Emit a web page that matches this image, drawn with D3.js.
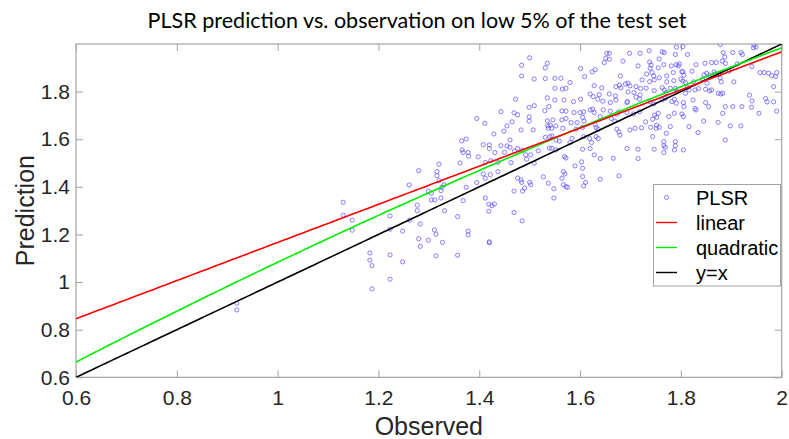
<!DOCTYPE html>
<html>
<head>
<meta charset="utf-8">
<script src="https://cdn.jsdelivr.net/npm/d3@7"></script>
<style>
  html, body { margin: 0; padding: 0; background: #fff; }
  svg { display: block; }
</style>
</head>
<body>
<svg id="chart" width="789" height="439"></svg>
<script>
// PLSR predictions against observed values (low 5% of the test set)
const plsrPoints = [
  [1.500,1.942],[1.484,1.911],[1.535,1.919],[1.531,1.900],[1.484,1.866],[1.509,1.853],[1.531,1.855],
  [1.472,1.768],[1.535,1.774],[1.499,1.734],[1.509,1.741],[1.538,1.737],[1.530,1.720],[1.443,1.716],
  [1.469,1.711],[1.476,1.703],[1.499,1.694],[1.395,1.687],[1.411,1.667],[1.465,1.673],[1.499,1.676],
  [1.535,1.677],[1.455,1.656],[1.536,1.656],[1.449,1.634],[1.429,1.622],[1.483,1.639],[1.507,1.639],
  [1.537,1.646],[1.461,1.597],[1.374,1.601],[1.365,1.593],[1.408,1.577],[1.420,1.576],[1.420,1.561],
  [1.443,1.573],[1.455,1.572],[1.461,1.566],[1.476,1.561],[1.366,1.555],[1.378,1.544],[1.368,1.544],
  [1.379,1.529],[1.398,1.526],[1.431,1.544],[1.450,1.545],[1.470,1.550],[1.486,1.554],[1.492,1.535],
  [1.502,1.534],[1.517,1.551],[1.539,1.563],[1.531,1.608],[1.540,1.611],[1.362,1.500],[1.412,1.502],
  [1.423,1.510],[1.437,1.503],[1.463,1.502],[1.494,1.516],[1.509,1.499],[1.320,1.495],
  [1.280,1.468],[1.316,1.464],[1.316,1.447],[1.320,1.426],[1.261,1.408],[1.330,1.409],[1.326,1.398],
  [1.299,1.382],[1.305,1.373],[1.324,1.384],[1.130,1.335],[1.305,1.345],[1.312,1.345],[1.324,1.353],
  [1.277,1.323],[1.277,1.300],[1.331,1.300],[1.130,1.281],[1.148,1.260],[1.223,1.278],[1.262,1.260],
  [1.283,1.244],[1.148,1.218],[1.223,1.222],[1.248,1.214],[1.311,1.219],[1.314,1.201],[1.280,1.182],
  [1.299,1.176],[1.327,1.167],[1.283,1.150],[1.183,1.122],[1.223,1.114],[1.314,1.110],[1.183,1.092],
  [1.187,1.069],[1.248,1.085],[1.223,1.012],[1.187,0.971],[1.357,1.275],[1.357,1.113],[1.378,1.214],
  [1.378,1.198],[1.420,1.169],[1.420,1.165],[1.368,1.342],[1.374,1.398],[1.395,1.418],[1.412,1.436],
  [1.408,1.454],[1.422,1.451],[1.437,1.464],[1.412,1.353],[1.419,1.327],[1.425,1.321],[1.430,1.328],
  [1.419,1.297],[1.469,1.292],[1.485,1.257],[1.469,1.382],[1.486,1.382],[1.490,1.395],[1.476,1.437],
  [1.483,1.429],[1.484,1.419],[1.500,1.419],[1.502,1.409],[1.527,1.442],[1.537,1.415],
  [1.567,1.464],[1.570,1.454],[1.564,1.436],[1.548,1.392],[1.548,1.353],[1.567,1.409],[1.572,1.401],
  [1.575,1.398],[1.605,1.443],[1.611,1.419],[1.607,1.404],[1.640,1.432],[1.677,1.446],
  [0.919,0.911],[0.919,0.883],
  [1.878,1.998],[1.945,1.995],[1.949,1.987],[1.944,1.984],[1.791,1.987],[1.804,1.989],[1.737,1.972],
  [1.653,1.961],[1.658,1.961],[1.698,1.961],[1.719,1.961],[1.763,1.967],[1.767,1.964],[1.789,1.956],
  [1.813,1.956],[1.884,1.964],[1.903,1.964],[1.919,1.964],[1.922,1.956],[1.651,1.940],[1.658,1.936],
  [1.648,1.922],[1.685,1.928],[1.715,1.908],[1.738,1.924],[1.741,1.912],[1.739,1.898],[1.766,1.913],
  [1.755,1.900],[1.781,1.908],[1.791,1.913],[1.797,1.916],[1.757,1.937],[1.802,1.884],[1.830,1.913],
  [1.848,1.919],[1.861,1.922],[1.870,1.922],[1.887,1.945],[1.882,1.928],[1.888,1.919],[1.912,1.916],
  [1.601,1.897],[1.630,1.892],[1.624,1.883],[1.680,1.866],[1.609,1.863],[1.550,1.856],[1.562,1.856],
  [1.732,1.874],[1.743,1.880],[1.746,1.866],[1.772,1.866],[1.785,1.880],[1.795,1.908],[1.804,1.883],
  [1.806,1.869],[1.822,1.886],[1.846,1.871],[1.851,1.877],[1.857,1.869],[1.866,1.883],[1.868,1.874],
  [1.875,1.871],[1.896,1.886],[1.900,1.897],[1.941,1.905],[1.957,1.880],[1.965,1.880],[1.974,1.877],
  [1.980,1.867],[1.990,1.880],[1.988,1.863],[1.800,1.852],[1.804,1.844],[1.786,1.846],[1.772,1.841],
  [1.757,1.858],[1.825,1.841],[1.809,1.838],[1.843,1.852],[1.852,1.835],[1.878,1.858],[1.880,1.841],
  [1.905,1.841],[1.580,1.838],[1.550,1.814],[1.565,1.811],[1.572,1.814],[1.628,1.825],[1.643,1.816],
  [1.671,1.821],[1.678,1.827],[1.681,1.816],[1.690,1.832],[1.695,1.835],[1.699,1.824],[1.711,1.821],
  [1.720,1.813],[1.723,1.849],[1.738,1.842],[1.747,1.849],[1.695,1.799],[1.707,1.796],[1.731,1.814],
  [1.747,1.804],[1.763,1.817],[1.767,1.807],[1.771,1.796],[1.779,1.814],[1.789,1.813],[1.793,1.800],
  [1.813,1.817],[1.816,1.807],[1.809,1.793],[1.828,1.807],[1.835,1.813],[1.849,1.810],[1.857,1.803],
  [1.861,1.807],[1.874,1.793],[1.879,1.790],[1.883,1.793],[1.936,1.785],[1.941,1.761],[1.984,1.821],
  [1.620,1.790],[1.626,1.779],[1.638,1.787],[1.658,1.790],[1.670,1.782],[1.601,1.768],[1.587,1.758],
  [1.550,1.765],[1.568,1.765],[1.635,1.768],[1.645,1.760],[1.660,1.754],[1.671,1.765],[1.694,1.758],
  [1.693,1.754],[1.711,1.777],[1.718,1.768],[1.719,1.786],[1.739,1.757],[1.746,1.748],[1.763,1.765],
  [1.769,1.772],[1.782,1.758],[1.787,1.768],[1.791,1.751],[1.805,1.754],[1.806,1.737],[1.824,1.765],
  [1.830,1.723],[1.828,1.729],[1.849,1.754],[1.855,1.737],[1.888,1.737],[1.903,1.737],[1.921,1.737],
  [1.940,1.734],[1.968,1.771],[1.971,1.757],[1.984,1.757],[1.955,1.709],[1.990,1.718],[1.883,1.709],
  [1.564,1.719],[1.572,1.718],[1.588,1.712],[1.600,1.712],[1.546,1.681],[1.564,1.681],[1.572,1.687],
  [1.582,1.670],[1.594,1.670],[1.607,1.715],[1.608,1.676],[1.605,1.692],[1.620,1.723],[1.625,1.726],
  [1.628,1.712],[1.646,1.723],[1.660,1.718],[1.640,1.695],[1.662,1.687],[1.673,1.706],[1.677,1.715],
  [1.693,1.712],[1.706,1.706],[1.718,1.715],[1.730,1.673],[1.744,1.684],[1.748,1.701],[1.752,1.692],
  [1.755,1.709],[1.776,1.695],[1.787,1.709],[1.802,1.706],[1.805,1.695],[1.845,1.676],[1.874,1.671],
  [1.898,1.656],[1.919,1.656],[1.552,1.656],[1.566,1.646],[1.541,1.659],[1.544,1.646],[1.544,1.614],
  [1.592,1.642],[1.605,1.650],[1.630,1.661],[1.632,1.649],[1.636,1.642],[1.669,1.676],[1.673,1.642],
  [1.677,1.631],[1.679,1.617],[1.699,1.639],[1.709,1.646],[1.722,1.648],[1.740,1.650],[1.744,1.611],
  [1.751,1.646],[1.752,1.659],[1.757,1.650],[1.771,1.625],[1.779,1.653],[1.816,1.653],[1.834,1.628],
  [1.888,1.597],[1.552,1.597],[1.559,1.592],[1.580,1.586],[1.584,1.603],[1.607,1.611],[1.619,1.603],
  [1.623,1.586],[1.632,1.611],[1.636,1.603],[1.544,1.562],[1.552,1.555],[1.605,1.558],[1.620,1.561],
  [1.628,1.534],[1.640,1.519],[1.666,1.520],[1.693,1.561],[1.715,1.558],[1.715,1.519],[1.747,1.558],
  [1.766,1.590],[1.766,1.573],[1.769,1.566],[1.766,1.544],[1.789,1.590],[1.789,1.573],[1.787,1.555],
  [1.805,1.555],[1.569,1.527],[1.572,1.521],[1.590,1.488],[1.603,1.505],[1.605,1.478]
];

// Fitted curves: coefficients in ascending powers of x
const linearFit = [0.3654, 0.801];
const quadraticFit = [-0.0278, 1.216, -0.105];
const identityLine = [0, 1];

const xTicks = [0.6, 0.8, 1, 1.2, 1.4, 1.6, 1.8, 2];
const yTicks = [0.6, 0.8, 1, 1.2, 1.4, 1.6, 1.8];
const legendLabels = ["PLSR", "linear", "quadratic", "y=x"];

const titleText = "PLSR prediction vs. observation on low 5% of the test set";
const xLabel = "Observed";
const yLabel = "Prediction";

const margin = { left: 76, right: 7.3, top: 44, bottom: 61.7 };
const W = 789, H = 439;
const svg = d3.select("#chart");

const x = d3.scaleLinear().domain([0.6, 2]).range([margin.left, W - margin.right]);
const y = d3.scaleLinear().domain([0.6, 2]).range([H - margin.bottom, margin.top]);

const frameColor = "#a3a3a3";
const labelColor = "#262626";
const tickFont = "Liberation Sans, Arial, sans-serif";

// clip region for the plotted data
svg.append("clipPath").attr("id", "plotClip")
  .append("rect")
  .attr("x", x(0.6)).attr("y", y(2))
  .attr("width", x(2) - x(0.6)).attr("height", y(0.6) - y(2));

// axes: inward ticks on all four sides, MATLAB style
const tickLen = 7;
function styleAxis(g) {
  g.select(".domain").remove();
  g.selectAll(".tick line").attr("stroke", frameColor).attr("stroke-width", 1);
  g.selectAll(".tick text")
    .attr("fill", labelColor)
    .style("font-family", tickFont)
    .style("font-size", "21px");
}

svg.append("g")
  .attr("transform", `translate(0,${y(0.6)})`)
  .call(d3.axisBottom(x).tickValues(xTicks).tickFormat(d3.format("~g"))
        .tickSizeInner(-tickLen).tickSizeOuter(0).tickPadding(13))
  .call(styleAxis);

svg.append("g")
  .attr("transform", `translate(0,${y(2)})`)
  .call(d3.axisTop(x).tickValues(xTicks).tickFormat("")
        .tickSizeInner(-tickLen).tickSizeOuter(0))
  .call(styleAxis);

svg.append("g")
  .attr("transform", `translate(${x(0.6)},0)`)
  .call(d3.axisLeft(y).tickValues(yTicks).tickFormat(d3.format("~g"))
        .tickSizeInner(-tickLen).tickSizeOuter(0).tickPadding(6))
  .call(styleAxis);

svg.append("g")
  .attr("transform", `translate(${x(2)},0)`)
  .call(d3.axisRight(y).tickValues(yTicks).tickFormat("")
        .tickSizeInner(-tickLen).tickSizeOuter(0))
  .call(styleAxis);

// plot box
svg.append("rect")
  .attr("x", x(0.6)).attr("y", y(2))
  .attr("width", x(2) - x(0.6)).attr("height", y(0.6) - y(2))
  .attr("fill", "none").attr("stroke", frameColor).attr("stroke-width", 1.2);

const plot = svg.append("g").attr("clip-path", "url(#plotClip)");

// PLSR scatter
const pointColor = "#5b4dff";
plot.append("g")
  .selectAll("circle")
  .data(plsrPoints)
  .join("circle")
  .attr("cx", d => x(d[0]))
  .attr("cy", d => y(d[1]))
  .attr("r", 2.1)
  .attr("fill", "none")
  .attr("stroke", pointColor)
  .attr("stroke-opacity", 0.8)
  .attr("stroke-width", 0.9);

// evaluate a polynomial over the x range
const poly = coef => v => coef.reduce((s, c, i) => s + c * Math.pow(v, i), 0);
const xs = d3.range(0, 141).map(i => 0.6 + i * 0.01);
const lineGen = d3.line().x(d => x(d[0])).y(d => y(d[1]));

const fits = [
  { coef: identityLine, color: "#000000" },
  { coef: quadraticFit, color: "#00ee00" },
  { coef: linearFit, color: "#ff0000" }
];
fits.forEach(f => {
  const fn = poly(f.coef);
  plot.append("path")
    .datum(xs.map(v => [v, fn(v)]))
    .attr("d", lineGen)
    .attr("fill", "none")
    .attr("stroke", f.color)
    .attr("stroke-width", 1.6);
});

// legend
const legend = svg.append("g");
legend.append("rect")
  .attr("x", 653.5).attr("y", 184.5)
  .attr("width", 127).attr("height", 101.5)
  .attr("fill", "#fff").attr("stroke", frameColor).attr("stroke-width", 1);

const legendColors = [pointColor, "#ff0000", "#00ee00", "#000000"];
const rowY = d3.scalePoint().domain(legendLabels).range([197.5, 272.5]);
legendLabels.forEach((lab, i) => {
  const cy = rowY(lab);
  if (i === 0) {
    legend.append("circle")
      .attr("cx", 666.5).attr("cy", cy).attr("r", 2.1)
      .attr("fill", "none").attr("stroke", pointColor)
      .attr("stroke-opacity", 0.8).attr("stroke-width", 0.9);
  } else {
    legend.append("line")
      .attr("x1", 656).attr("x2", 677).attr("y1", cy).attr("y2", cy)
      .attr("stroke", legendColors[i]).attr("stroke-width", 1.4);
  }
  legend.append("text")
    .attr("x", 696).attr("y", cy + 7.3)
    .attr("fill", "#000")
    .style("font-family", tickFont)
    .style("font-size", "20px")
    .text(lab);
});

// axis titles
svg.append("text")
  .attr("x", (x(0.6) + x(2)) / 2).attr("y", 435)
  .attr("text-anchor", "middle")
  .attr("fill", labelColor)
  .style("font-family", tickFont)
  .style("font-size", "25px")
  .text(xLabel);

svg.append("text")
  .attr("transform", `translate(34,${(y(0.6) + y(2)) / 2}) rotate(-90)`)
  .attr("text-anchor", "middle")
  .attr("fill", labelColor)
  .style("font-family", tickFont)
  .style("font-size", "25px")
  .text(yLabel);

// chart title, sized to span its allotted width
const title = svg.append("text")
  .attr("x", 417).attr("y", 28)
  .attr("text-anchor", "middle")
  .attr("fill", "#000")
  .style("font-family", "Lato, 'Open Sans', sans-serif")
  .style("font-size", "21px")
  .text(titleText);
const tw = title.node().getComputedTextLength();
title.style("font-size", (21 * 539 / tw).toFixed(2) + "px");
</script>
</body>
</html>
